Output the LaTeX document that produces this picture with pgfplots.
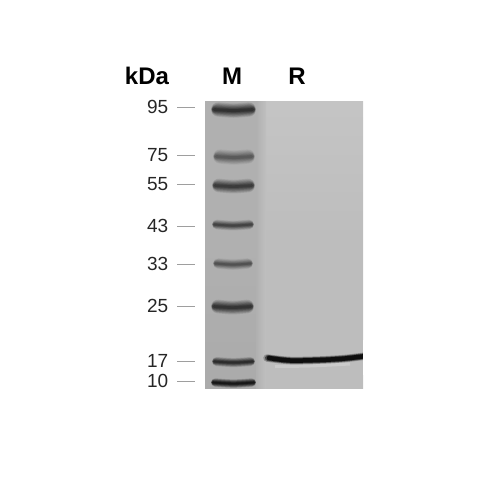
\documentclass[border=0pt]{standalone}
\usepackage{fontspec}
\setmainfont{Liberation Sans}
\usepackage{pgfplots}
\pgfplotsset{compat=1.18}

% one layer of a band: x1 x2 y line width opacity inset
\newcommand\layer[6]{%
  \addplot[smooth, draw=black, line cap=round, opacity=#5, line width=#4 bp] coordinates {(#1+#6,#3-0.5) (#1/2+#2/2,#3+0.6) (#2-#6,#3-0.5)};
}
% one band = stacked soft lines, x1 x2 y thickness strength
\newcommand\band[5]{%
  \layer{#1}{#2}{#3}{#4*1.3}{#5*0.07}{#4*0.65}
  \layer{#1}{#2}{#3}{#4*1.15}{#5*0.08}{#4*0.6}
  \layer{#1}{#2}{#3}{#4*1.0}{#5*0.09}{#4*0.55}
  \layer{#1}{#2}{#3}{#4*0.85}{#5*0.10}{#4*0.5}
  \layer{#1}{#2}{#3}{#4*0.7}{#5*0.11}{#4*0.4}
  \layer{#1}{#2}{#3}{#4*0.55}{#5*0.12}{#4*0.35}
  \layer{#1}{#2}{#3}{#4*0.4}{#5*0.14}{#4*0.3}
  \layer{#1}{#2}{#3}{#4*0.25}{#5*0.16}{#4*0.3}
}
\newcommand\gelstrip[5]{%
  \addplot[draw=none, shade, top color=#3, bottom color=#4, middle color=#5] coordinates {(#1,101) (#2,101) (#2,388) (#1,388)};
}
\newcommand\sizelabel[2]{%
  \addplot[draw=black!38, line width=0.9bp] coordinates {(177,#1) (195,#1)};
  \node[anchor=east, font=\fontsize{19bp}{19bp}\selectfont, text=black!85, inner sep=0pt] at (axis cs:168.5,#1) {#2};
}

\begin{document}
\begin{tikzpicture}
\path[use as bounding box] (0,0) rectangle (500bp,500bp);
\begin{axis}[
    at={(0,0)}, anchor=south west,
    scale only axis,
    width=500bp, height=500bp,
    xmin=0, xmax=500, ymin=0, ymax=500,
    y dir=reverse,
    hide axis,
    clip=true,
]
% gel background, lanes M and R
\gelstrip{205}{262}{black!31}{black!33}{black!31}
\gelstrip{260}{363}{black!23}{black!26}{black!26}
\addplot[draw=none, shade, left color=black!31, right color=black!25] coordinates {(256,101) (266,101) (266,388) (256,388)};

% marker bands
\band{211}{256}{110}{11}{1.3}
\band{213}{255}{157}{11}{0.7}
\band{212}{255}{186}{10.5}{1.15}
\band{212}{254}{225}{7.5}{1.0}
\band{213}{253}{264}{8}{0.8}
\band{211}{254}{307}{10.5}{1.25}
\band{212}{255}{362}{7}{1.4}
\band{211}{256}{383}{6.5}{1.9}

% sample band
\addplot[smooth, draw=white, opacity=0.2, line width=3bp] coordinates {(275,366.5) (310,366) (350,364)};
\addplot[smooth, draw=black, line cap=round, opacity=0.25, line width=7.5bp] coordinates {(267,358) (290,360.5) (320,360) (345,358.5) (370,355.5)};
\addplot[smooth, draw=black, line cap=round, opacity=0.5, line width=6bp] coordinates {(268,358) (290,360.5) (320,360) (345,358.5) (370,355.5)};
\addplot[smooth, draw=black, line cap=round, opacity=0.8, line width=4.5bp] coordinates {(269,358) (290,360.5) (320,360) (345,358.5) (370,355.5)};
\addplot[draw=none, fill=white] coordinates {(363,340) (380,340) (380,375) (363,375)};

% size ladder
\sizelabel{107}{95}
\sizelabel{155}{75}
\sizelabel{184}{55}
\sizelabel{226}{43}
\sizelabel{264}{33}
\sizelabel{306}{25}
\sizelabel{361}{17}
\sizelabel{381}{10}

\node[font=\fontsize{24bp}{24bp}\selectfont\bfseries, inner sep=0pt] at (axis cs:147,76) {kDa};
\node[font=\fontsize{24bp}{24bp}\selectfont\bfseries, inner sep=0pt] at (axis cs:232,76) {M};
\node[font=\fontsize{24bp}{24bp}\selectfont\bfseries, inner sep=0pt] at (axis cs:297,76) {R};
\end{axis}
\end{tikzpicture}
\end{document}
